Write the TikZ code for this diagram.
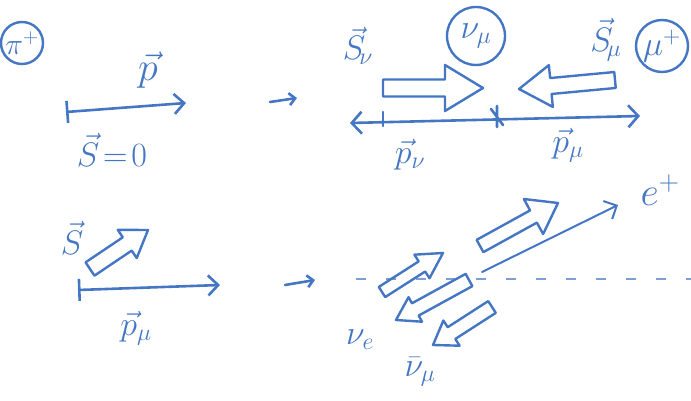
\RequirePackage{fix-cm}
\documentclass[tikz,border=0pt]{standalone}
\usetikzlibrary{arrows.meta,calc}
\definecolor{ink}{RGB}{68,118,196}
% block arrow for a spin: tail, tip, shaft half width, head half width, head length
\newcommand\spinarrow[5]{%
 \coordinate (sa) at #1;\coordinate (sb) at #2;\coordinate (sh) at ($(sb)!#5!(sa)$);
 \draw[spin] ($(sa)!#3!90:(sb)$)--($(sh)!#3!-90:(sa)$)--($(sh)!#4!-90:(sa)$)--(sb)
  --($(sh)!#4!90:(sa)$)--($(sh)!#3!90:(sa)$)--($(sa)!#3!-90:(sb)$)--cycle;}
\begin{document}
\begin{tikzpicture}[x=1pt,y=-1pt,font=\fontsize{34}{36}\selectfont,color=ink,
 ink/.style={draw=ink,line width=2.6pt,line cap=round},
 spin/.style={draw=ink,line width=2.4pt,line join=round},
 mom/.style={ink,-{Straight Barb[length=10pt,width=20pt]}},
 part/.style={draw=ink,line width=2.4pt,circle,inner sep=0pt}]
 \useasboundingbox (0,0) rectangle (691,401);
 % pion at rest
 \node[part,minimum size=42pt,font=\fontsize{30}{32}\selectfont] (pi) at (22,43) {$\pi^{+}$};
 \node[font=\fontsize{40}{42}\selectfont] (p) at (148,70) {$\vec{p}$};
 \coordinate (p0) at (66,112);\coordinate (p1) at (186,103);
 \draw[mom,{Bar[width=22pt]}-{Straight Barb[length=10pt,width=20pt]}] (p0)--(p1);
 \node (s0) at (112,150) {$\vec{S}\!=\!0$};
 \coordinate (t0) at (270,102);\coordinate (t1) at (297,98);
 \draw[mom,-{Straight Barb[length=6pt,width=12pt]}] (t0)--(t1);
 % two body decay
 \coordinate (n0) at (350,123);\coordinate (v) at (497,117);\coordinate (m0) at (640,116);
 \draw[mom,{Straight Barb[length=10pt,width=22pt]}-{Straight Barb[length=10pt,width=22pt]}] (n0)--(m0);
 \draw[ink] ($(v)+(0,-11)$)--($(v)+(0,10)$) ($(v)+(-6,-8)$)--($(v)+(6,8)$);
 \draw[ink] (383,112)--(383,126);
 \spinarrow{(383,88)}{(483,88)}{8.5pt}{23pt}{38pt}
 \spinarrow{(615,80)}{(519,89)}{8pt}{21pt}{32pt}
 \node (snu) at (358,46) {$\vec{S}_{\!\nu}$};
 \node[part,minimum size=58pt] (numu) at (476,36) {$\nu_{\mu}$};
 \node (smu) at (606,40) {$\vec{S}_{\!\mu}$};
 \node[part,minimum size=52pt] (mu) at (662,46) {$\mu^{+}$};
 \node (pnu) at (410,155) {$\vec{p}_{\nu}$};
 \node (pmu) at (568,145) {$\vec{p}_{\mu}$};
 % muon with spin
 \node (s1) at (72,238) {$\vec{S}$};
 \spinarrow{(90,269)}{(148,230)}{8pt}{17pt}{25pt}
 \coordinate (q0) at (78,290);\coordinate (q1) at (220,285);
 \draw[mom,{Bar[width=22pt]}-{Straight Barb[length=10pt,width=20pt]}] (q0)--(q1);
 \node (pmu2) at (136,328) {$\vec{p}_{\mu}$};
 \coordinate (u0) at (285,285);\coordinate (u1) at (315,280);
 \draw[mom,-{Straight Barb[length=6pt,width=12pt]}] (u0)--(u1);
 % three body decay
 \coordinate (d0) at (356,279);\coordinate (d1) at (691,279);
 \draw[draw=ink!70,line width=1.6pt,dash pattern=on 10pt off 20pt] (d0)--(d1);
 \coordinate (e0) at (482,272);\coordinate (e1) at (618,205);
 \draw[mom,line width=2pt] (e0)--(e1);
 \node[font=\fontsize{40}{42}\selectfont] (ep) at (660,190) {$e^{+}$};
 \spinarrow{(480,246)}{(558,203)}{7pt}{20pt}{28pt}
 \spinarrow{(382,292)}{(443,253)}{6pt}{14pt}{25pt}
 \spinarrow{(469,280)}{(396,320)}{7pt}{14pt}{22pt}
 \spinarrow{(492,307)}{(433,345)}{7pt}{15pt}{22pt}
 \node (nue) at (360,340) {$\nu_{e}$};
 \node (numubar) at (420,372) {$\bar{\nu}_{\mu}$};
\end{tikzpicture}
\end{document}
